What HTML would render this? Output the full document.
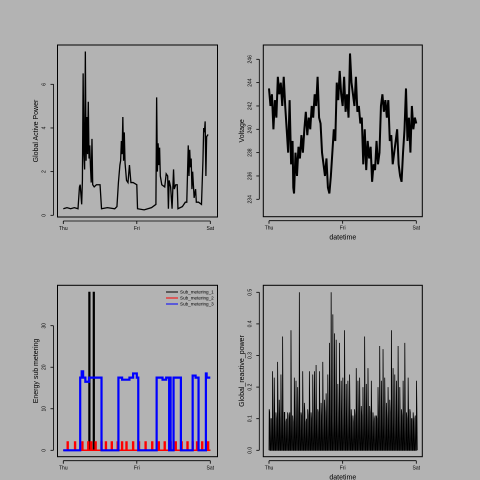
<!DOCTYPE html>
<html><head><meta charset="utf-8"><style>
body{margin:0;background:#b3b3b3;}
svg{display:block;font-family:"Liberation Sans",sans-serif;}
</style></head><body>
<svg id="c" width="480" height="480" viewBox="0 0 480 480">
<rect width="480" height="480" fill="#b3b3b3"/>
</svg>
<script>
// ---- data ----
const dayLabels = ["Thu","Fri","Sat"];
const gapT = [0,0.05,0.1,0.15,0.2,0.22,0.23,0.25,0.26,0.27,0.28,0.29,0.3,0.31,0.32,0.33,0.34,0.35,0.36,0.37,0.38,0.39,0.4,0.42,0.45,0.5,0.52,0.6,0.7,0.73,0.75,0.77,0.78,0.79,0.8,0.81,0.82,0.83,0.84,0.86,0.88,0.9,0.92,0.95,1.0,1.01,1.1,1.2,1.26,1.27,1.28,1.29,1.3,1.31,1.32,1.34,1.38,1.4,1.42,1.43,1.44,1.46,1.48,1.5,1.51,1.53,1.55,1.56,1.62,1.66,1.68,1.7,1.71,1.72,1.73,1.74,1.75,1.76,1.78,1.8,1.81,1.84,1.88,1.9,1.91,1.92,1.93,1.94,1.95,1.97];
const gapV = [0.3,0.35,0.3,0.35,0.3,1.3,1.4,0.5,1.6,6.5,2.8,2.1,7.5,2.5,4.5,2.8,5.2,2.6,3.2,2.2,1.5,3.5,1.4,1.3,1.4,1.4,0.3,0.35,0.3,0.4,1.5,2.3,2.5,3.4,2.8,4.5,2.5,3.8,2.4,1.6,1.5,2.3,1.5,1.5,1.4,0.3,0.25,0.35,0.5,5.4,2.0,3.3,2.3,3.1,1.8,1.4,1.3,1.9,1.8,0.3,1.6,1.3,0.3,2.1,1.2,1.4,1.4,0.3,0.4,0.6,0.6,3.2,1.8,3.0,2.2,2.6,1.2,2.0,0.8,1.2,0.6,0.6,0.5,2.5,4.0,3.8,4.3,1.8,3.6,3.7];
const gapTicks = [0,2,4,6];
const voltT = [0,0.02,0.04,0.06,0.08,0.1,0.12,0.14,0.16,0.18,0.2,0.22,0.24,0.26,0.28,0.3,0.32,0.33,0.34,0.36,0.38,0.4,0.42,0.44,0.46,0.48,0.5,0.52,0.54,0.56,0.58,0.6,0.62,0.64,0.66,0.68,0.7,0.72,0.74,0.76,0.78,0.8,0.82,0.84,0.86,0.88,0.9,0.92,0.94,0.96,0.98,1.0,1.02,1.04,1.06,1.08,1.1,1.12,1.14,1.16,1.18,1.2,1.22,1.24,1.26,1.28,1.3,1.32,1.34,1.36,1.38,1.4,1.42,1.44,1.46,1.48,1.5,1.52,1.54,1.56,1.58,1.6,1.62,1.64,1.66,1.68,1.7,1.72,1.74,1.76,1.78,1.8,1.82,1.84,1.86,1.88,1.9,1.92,1.94,1.96,1.98,2.0];
const voltV = [243.5,242,243,240,242.5,241,244.5,243,244,242,244.5,242,240,238,242.5,237,239,235,234.5,238,236,238.5,237.5,239.5,238,240,241.5,239.5,241,240,242,241,243,242,244.5,241,240.5,238,237,236,237.5,235,234.5,236,238,240,239,244,242.5,245,243,242,244.5,241.5,243,241,246.5,244,243,242,244.5,241.5,242,240.5,241,237,240,236.5,239,237.5,238.5,235.5,237,236.5,239,237,238,242,243,241.5,242.5,241,242.5,239,239.5,237,238,239,240,237,236,235.5,238,240,243.5,239,241,238,242,240,241,240.5];
const voltTicks = [234,236,238,240,242,244,246];
const sub1T = [0,0.35,0.36,0.41,0.42];
const sub1V = [0,38,0,38,0];
const sub2Pulse = [0.06,0.16,0.26,0.34,0.38,0.44,0.52,0.58,0.66,0.74,0.8,0.86,0.95,1.03,1.12,1.21,1.3,1.38,1.46,1.53,1.61,1.69,1.76,1.82,1.89,1.97];
const sub2H = [2,2,2,2,2,2,2,2,2,2,2,2,2,2,2,2,2,2,2,2,2,2,2,2,2,2];
const sub3T = [0,0.23,0.25,0.27,0.3,0.35,0.4,0.52,0.75,0.8,0.9,0.95,1.0,1.02,1.27,1.35,1.4,1.44,1.45,1.46,1.5,1.54,1.6,1.76,1.8,1.84,1.94,1.95];
const sub3V = [0,17.5,19,17.5,16.5,17.5,17.5,0,17.5,17,17.5,18.5,17.5,0,17.5,17,17.5,0,17.5,0,17.5,17.5,0,18,17.5,0,18.5,17.5];
const subTicks = [0,10,20,30];
const reactV = [0.13,0.1,0.25,0.23,0.12,0.28,0.16,0.24,0.36,0.12,0.09,0.12,0.1,0.38,0.11,0.23,0.22,0.2,0.5,0.12,0.25,0.15,0.09,0.13,0.25,0.12,0.24,0.25,0.27,0.13,0.25,0.15,0.28,0.16,0.18,0.24,0.34,0.5,0.43,0.37,0.35,0.21,0.34,0.22,0.23,0.38,0.21,0.22,0.24,0.13,0.11,0.13,0.26,0.22,0.23,0.14,0.2,0.36,0.21,0.26,0.14,0.22,0.12,0.1,0.11,0.2,0.33,0.22,0.32,0.23,0.15,0.2,0.16,0.38,0.26,0.24,0.22,0.33,0.2,0.13,0.22,0.34,0.12,0.23,0.13,0.1,0.12,0.1,0.22];
const reactLow = [0.12,0.1,0.09,0.11,0.1,0.12,0.1,0.11,0.09,0.12,0.1,0.11];
const reactTicks = [0,0.1,0.2,0.3,0.4,0.5];

const NS="http://www.w3.org/2000/svg";
const svg=document.getElementById('c');
function mk(tag,attrs,parent){const e=document.createElementNS(NS,tag);for(const k in attrs)e.setAttribute(k,attrs[k]);(parent||svg).appendChild(e);return e;}

function panel(p){
  const g=mk('g',{});
  
  
  const sx=t=>p.x0+(p.x1-p.x0)*t/2;
  const sy=v=>p.yb+(v-p.vmin)*(p.yt-p.yb)/(p.vmax-p.vmin);
  const box=mk('rect',{x:p.bx0,y:p.by0,width:p.bx1-p.bx0,height:p.by1-p.by0,fill:'none',stroke:'#000','stroke-width':1},g);
  
  
  const xa=mk('g',{},g);
  
  
  mk('line',{x1:sx(0),x2:sx(2),y1:p.by1+4,y2:p.by1+4,stroke:'#000','stroke-width':0.8},xa);
  dayLabels.forEach((d,i)=>{
    mk('line',{x1:sx(i),x2:sx(i),y1:p.by1+4,y2:p.by1+7,stroke:'#000','stroke-width':0.8},xa);
    const t=mk('text',{x:sx(i),y:p.by1+13,'font-size':5,'text-anchor':'middle',fill:'#000'},xa);
    t.textContent=d;
    
    
  });
  const ya=mk('g',{},g);
  
  
  const yx=p.bx0-4;
  mk('line',{x1:yx,x2:yx,y1:sy(p.ticks[0]),y2:sy(p.ticks[p.ticks.length-1]),stroke:'#000','stroke-width':0.8},ya);
  p.ticks.forEach(v=>{
    mk('line',{x1:yx-3,x2:yx,y1:sy(v),y2:sy(v),stroke:'#000','stroke-width':0.8},ya);
    const t=mk('text',{x:yx-8,y:sy(v),'font-size':5,'text-anchor':'middle',fill:'#000',transform:`rotate(-90 ${yx-8} ${sy(v)})`},ya);
    t.textContent=p.fmt?p.fmt(v):v;
    
    
  });
  const yl=mk('text',{x:p.ylx,y:(p.by0+p.by1)/2,'font-size':7,'text-anchor':'middle',fill:'#000',transform:`rotate(-90 ${p.ylx} ${(p.by0+p.by1)/2})`},g);
  yl.textContent=p.ylabel;
  
  
  if(p.xlabel){
    const xl=mk('text',{x:(p.bx0+p.bx1)/2,y:p.by1+23,'font-size':7,'text-anchor':'middle',fill:'#000'},g);
    xl.textContent=p.xlabel;
    
    
  }
  return {g,sx,sy};
}
function path(g,T,V,sx,sy,col,w,name){
  let d='';T.forEach((t,i)=>{d+=(i?'L':'M')+sx(t).toFixed(2)+' '+sy(V[i]).toFixed(2);});
  const e=mk('path',{d,fill:'none',stroke:col,'stroke-width':w,'stroke-linejoin':'miter'},g);
  
  
  return e;
}
function stepPath(g,T,V,sx,sy,col,w,name){
  let d='M'+sx(T[0]).toFixed(2)+' '+sy(V[0]).toFixed(2);
  for(let i=1;i<T.length;i++){d+='H'+sx(T[i]).toFixed(2)+'V'+sy(V[i]).toFixed(2);}
  d+='H'+sx(2).toFixed(2);
  const e=mk('path',{d,fill:'none',stroke:col,'stroke-width':w},g);
  
  
  return e;
}

// Panel 1
let P=panel({name:'global-active-power-panel',bx0:57.5,bx1:217.5,by0:45,by1:217,x0:63.3,x1:210.3,yb:215.3,yt:84.3,vmin:0,vmax:6,ticks:gapTicks,ylabel:'Global Active Power',ylx:38});
path(P.g,gapT,gapV,P.sx,P.sy,'#000',1.3,'gap-line');

// Panel 2
P=panel({name:'voltage-panel',bx0:263.3,bx1:422.3,by0:45,by1:216.7,x0:269,x1:416.3,yb:199.3,yt:59.3,vmin:234,vmax:246,ticks:voltTicks,ylabel:'Voltage',ylx:244,xlabel:'datetime'});
path(P.g,voltT,voltV,P.sx,P.sy,'#000',2,'voltage-line');

// Panel 3
P=panel({name:'sub-metering-panel',bx0:57.5,bx1:217.5,by0:285.3,by1:456.7,x0:63.3,x1:210.3,yb:450.3,yt:325.7,vmin:0,vmax:30,ticks:subTicks,ylabel:'Energy sub metering',ylx:38});
stepPath(P.g,sub1T,sub1V,P.sx,P.sy,'#000',1.5,'sub-metering-1-line');
{
  const T=[0],V=[0];
  sub2Pulse.forEach((c,i)=>{T.push(c-0.006,c+0.006);V.push(sub2H[i],0);});
  stepPath(P.g,T,V,P.sx,P.sy,'#f00',1.5,'sub-metering-2-line');
}
stepPath(P.g,sub3T,sub3V,P.sx,P.sy,'#00f',2.2,'sub-metering-3-line');
{
  const lg=mk('g',{},P.g);
  
  
  const items=[['Sub_metering_1','#000'],['Sub_metering_2','#f00'],['Sub_metering_3','#00f']];
  items.forEach((it,i)=>{
    const y=292+i*6;
    mk('line',{x1:166,x2:178,y1:y,y2:y,stroke:it[1],'stroke-width':1},lg);
    const t=mk('text',{x:180,y:y+1.6,'font-size':4.6,fill:'#000'},lg);
    t.textContent=it[0];
    
    
  });
}

// Panel 4
P=panel({name:'reactive-power-panel',bx0:263.3,bx1:422.3,by0:285.3,by1:456.7,x0:269,x1:416.3,yb:450.3,yt:292.3,vmin:0,vmax:0.5,ticks:reactTicks,fmt:v=>v.toFixed(1),ylabel:'Global_reactive_power',ylx:244,xlabel:'datetime'});
{
  const T=[],V=[];const n=reactV.length;
  reactV.forEach((v,i)=>{const t=2*i/(n-1);
    T.push(t,t+0.003,t+0.009,t+0.013);V.push(0,v,reactLow[i%reactLow.length],0);
  });
  path(P.g,T,V,P.sx,P.sy,'#000',0.8,'reactive-power-line');
}
</script>
</body></html>
